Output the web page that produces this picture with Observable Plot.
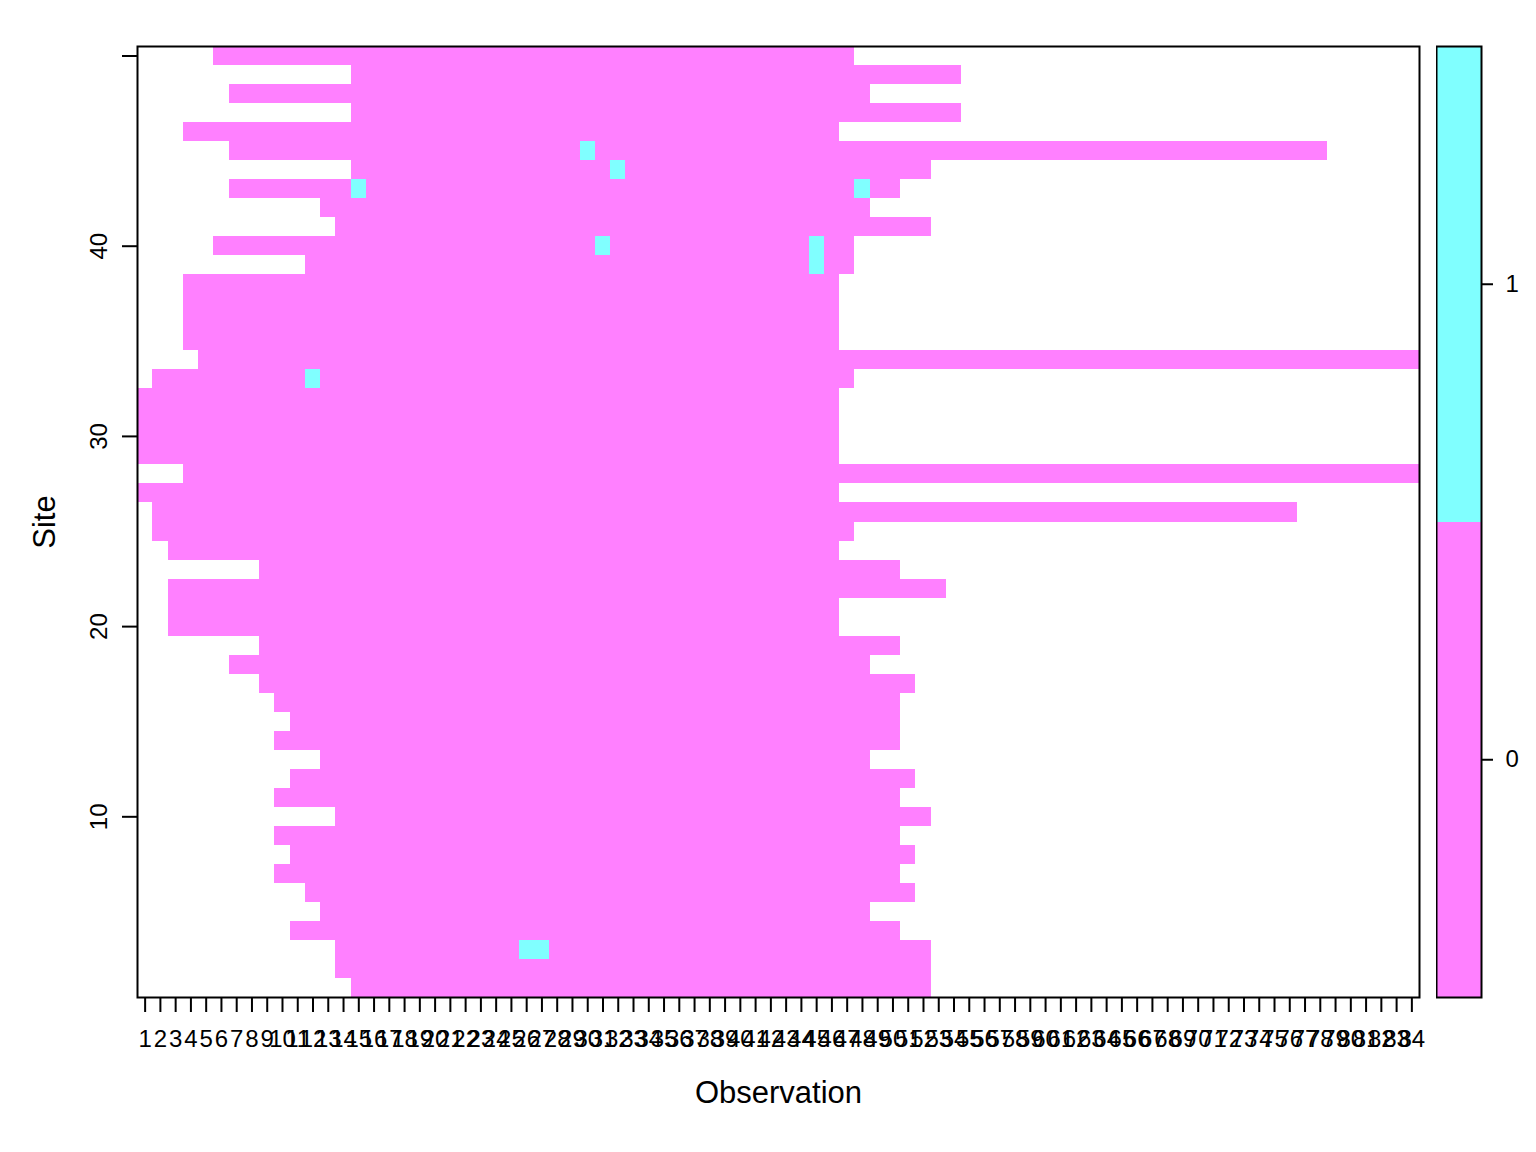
<!DOCTYPE html>
<html>
<head>
<meta charset="utf-8">
<script src="https://cdn.jsdelivr.net/npm/d3@7"></script>
<script src="https://cdn.jsdelivr.net/npm/@observablehq/plot@0.6"></script>
<style>
html, body { margin: 0; padding: 0; background: #fff; }
#chart { position: relative; width: 1536px; height: 1152px; }
#chart svg { position: absolute; top: 0; }
</style>
</head>
<body>
<div id="chart"></div>
<script>
// ---- data ----
const sites = [1,2,3,4,5,6,7,8,9,10,11,12,13,14,15,16,17,18,19,20,21,22,23,24,25,26,27,28,29,30,31,32,33,34,35,36,37,38,39,40,41,42,43,44,45,46,47,48,49,50];
const observations = [1,2,3,4,5,6,7,8,9,10,11,12,13,14,15,16,17,18,19,20,21,22,23,24,25,26,27,28,29,30,31,32,33,34,35,36,37,38,39,40,41,42,43,44,45,46,47,48,49,50,51,52,53,54,55,56,57,58,59,60,61,62,63,64,65,66,67,68,69,70,71,72,73,74,75,76,77,78,79,80,81,82,83,84];
// first and last surveyed observation per site (value 0 = not detected in between)
const firstObs = [15,14,14,11,13,12,10,11,10,14,10,11,13,10,11,10,9,7,9,3,3,3,9,3,2,2,1,4,1,1,1,1,2,5,4,4,4,4,12,6,14,13,7,15,7,4,15,7,15,6];
const lastObs  = [52,52,52,50,48,51,50,51,50,52,50,51,48,50,50,50,51,48,50,46,46,53,50,46,47,76,46,84,46,46,46,46,47,84,46,46,46,46,47,47,52,48,50,52,78,46,54,48,54,47];
// detections (value 1)
const detSite = [3,3,33,39,40,40,43,43,44,45];
const detObs  = [26,27,12,45,45,31,15,48,32,30];
const siteTicks = [10,20,30,40,50];
const siteTickLabels = ["10","20","30","40",""];
const levels = [0,1];
const levelColors = ["#FF80FF","#80FFFF"];

// ---- tables ----
const histories = sites.map((s, i) => ({site: s, first: firstObs[i], last: lastObs[i]}));
const detections = detSite.map((s, i) => ({site: s, obs: detObs[i]}));

const font = "'Liberation Sans', Arial, sans-serif";

const main = Plot.plot({
  width: 1536, height: 1152,
  marginLeft: 137, marginRight: 117, marginTop: 46, marginBottom: 155,
  x: {domain: [0.5, 84.5]},
  y: {domain: [0.5, 50.5]},
  style: {fontFamily: font, fontSize: "24px", color: "black", background: "white"},
  marks: [
    Plot.rect(histories, {x1: d => d.first - 0.5, x2: d => d.last + 0.5, y1: d => d.site - 0.5, y2: d => d.site + 0.5, fill: levelColors[0], shapeRendering: "crispEdges"}),
    Plot.rect(detections, {x1: d => d.obs - 0.5, x2: d => d.obs + 0.5, y1: d => d.site - 0.5, y2: d => d.site + 0.5, fill: levelColors[1], shapeRendering: "crispEdges"}),
    Plot.frame({stroke: "black", strokeWidth: 2}),
    Plot.axisX({ticks: observations, tickSize: 15, tickPadding: 17, fontSize: 24, strokeWidth: 2, label: null, tickFormat: d => String(d)}),
    Plot.axisY({ticks: siteTicks, tickSize: 15, tickRotate: -90, tickPadding: 16, fontSize: 24, strokeWidth: 2, label: null, tickFormat: d => siteTickLabels[siteTicks.indexOf(d)]}),
    Plot.text(["Site"], {frameAnchor: "left", dx: -92, rotate: -90, textAnchor: "middle", fontSize: 31, text: d => d}),
    Plot.text(["Observation"], {frameAnchor: "bottom", dy: 105, textAnchor: "middle", fontSize: 31, text: d => d})
  ]
});
main.style.left = "0px";
document.getElementById("chart").appendChild(main);

const key = Plot.plot({
  width: 100, height: 1152,
  marginLeft: 0, marginRight: 55, marginTop: 46, marginBottom: 155,
  y: {domain: [-0.5, 1.5]},
  color: {domain: levels, range: levelColors},
  style: {fontFamily: font, fontSize: "24px", color: "black", background: "transparent"},
  marks: [
    Plot.rect(levels, {y1: d => d - 0.5, y2: d => d + 0.5, fill: d => d, shapeRendering: "crispEdges"}),
    Plot.frame({stroke: "black", strokeWidth: 2}),
    Plot.axisY({anchor: "right", ticks: levels, tickSize: 11, tickPadding: 13, fontSize: 24, strokeWidth: 2, label: null, tickFormat: d => String(d)})
  ]
});
key.style.left = "1436px";
document.getElementById("chart").appendChild(key);
</script>
</body>
</html>
